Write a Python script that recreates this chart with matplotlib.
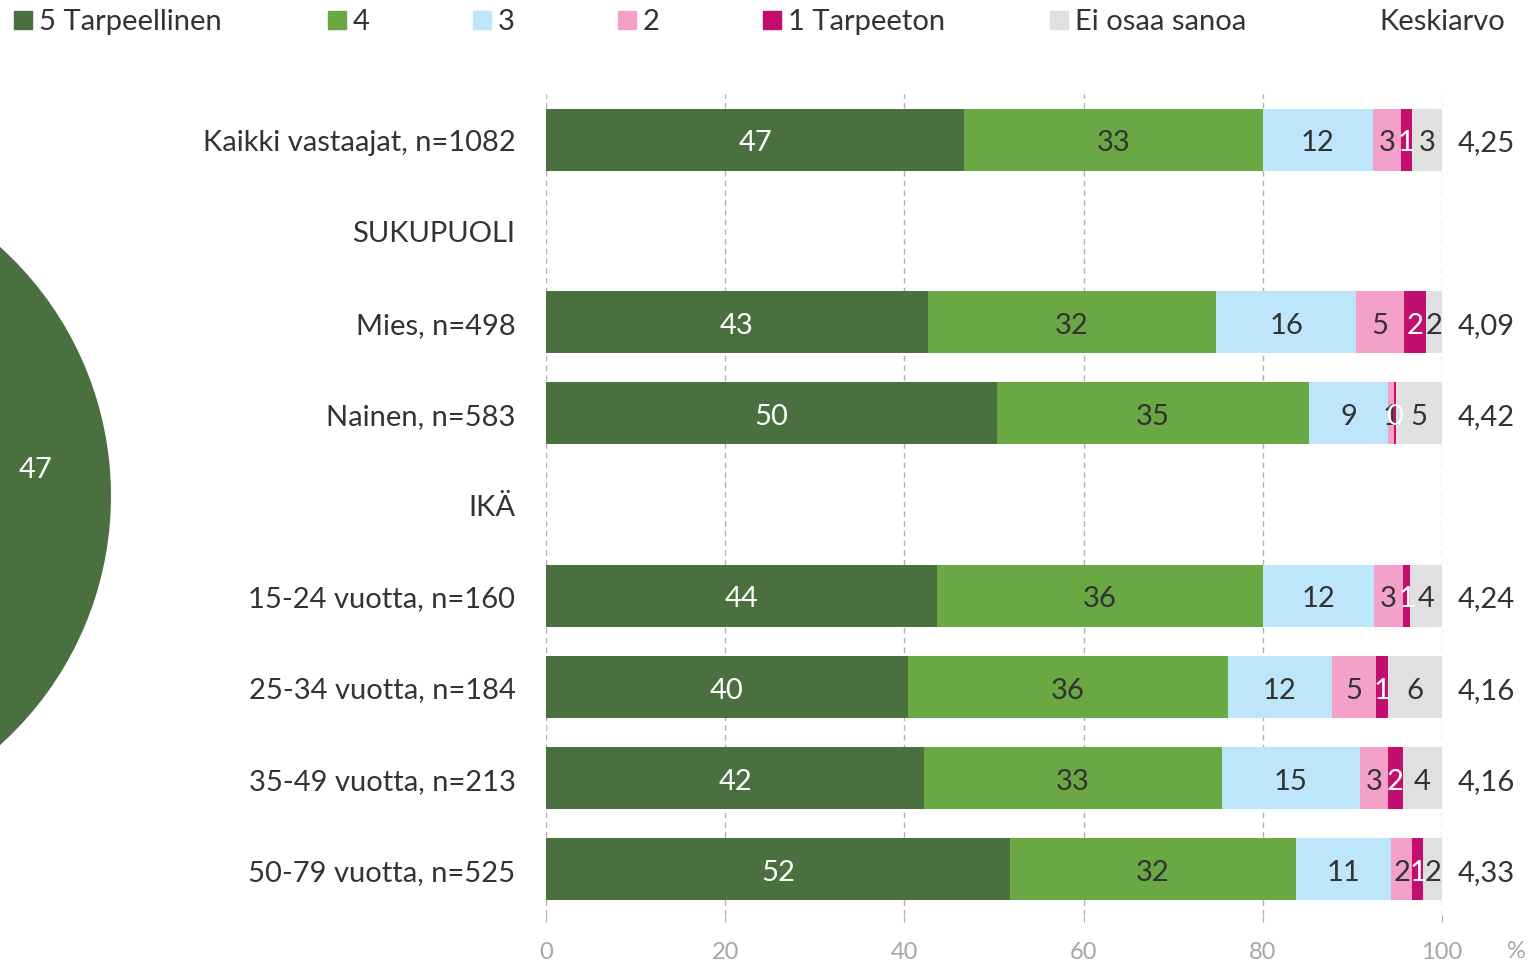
import numpy as np
import matplotlib
matplotlib.use("Agg")
import matplotlib.pyplot as plt
from matplotlib.patches import Rectangle

plt.rcParams['font.family'] = ['Lato', 'DejaVu Sans']

# data (percent), header rows are nan
categories = ["Kaikki vastaajat, n=1082", "SUKUPUOLI", "Mies, n=498", "Nainen, n=583", "IKÄ",
              "15-24 vuotta, n=160", "25-34 vuotta, n=184", "35-49 vuotta, n=213", "50-79 vuotta, n=525"]
series_names = ["5 Tarpeellinen", "4", "3", "2", "1 Tarpeeton", "Ei osaa sanoa"]
nan = np.nan
s5 = [46.7, nan, 42.6, 50.3, nan, 43.6, 40.4, 42.2, 51.8]
s4 = [33.3, nan, 32.2, 34.9, nan, 36.4, 35.7, 33.2, 31.9]
s3 = [12.3, nan, 15.6, 8.8, nan, 12.4, 11.6, 15.4, 10.6]
s2 = [3.1, nan, 5.4, 0.6, nan, 3.3, 4.9, 3.2, 2.4]
s1 = [1.2, nan, 2.4, 0.3, nan, 0.7, 1.4, 1.6, 1.2]
eos = [3.4, nan, 1.8, 5.1, nan, 3.6, 6.0, 4.4, 2.1]
means = ["4,25", "", "4,09", "4,42", "", "4,24", "4,16", "4,16", "4,33"]

colors = ["#4a7040", "#6aa843", "#bde6fa", "#f4a1c9", "#c20f6f", "#e0e0e0"]
txtcol = ["white", "#333333", "#333333", "#333333", "white", "#333333"]
series = [s5, s4, s3, s2, s1, eos]
fs = 21

W, H = 1531, 962
fig = plt.figure(figsize=(W/100, H/100), dpi=100)

# bar axes
ax = fig.add_axes([546/W, 1-916/H, 896/W, (916-95)/H])
y = np.arange(len(categories))
left = np.zeros(len(categories))
for k, s in enumerate(series):
    v = np.array(s, dtype=float)
    ax.barh(y, v, left=left, height=0.68, color=colors[k], zorder=2)
    for i in range(len(y)):
        if not np.isnan(v[i]):
            ax.text(left[i] + v[i]/2, y[i] + 0.03, f"{v[i]:.0f}", ha="center", va="center",
                    color=txtcol[k], fontsize=fs, zorder=3)
    left += np.nan_to_num(v)

for i in range(len(y)):
    ax.text(101.8, y[i] + 0.03, means[i], ha="left", va="center", fontsize=fs, color="#333333")

ax.set_xlim(0, 100)
ax.set_ylim(len(categories)-0.5, -0.5)
ax.set_yticks(y, categories)
ax.tick_params(axis="y", length=0, pad=22, labelsize=fs, labelcolor="#333333")
ax.set_xticks(np.arange(0, 101, 20))
ax.tick_params(axis="x", length=5, color="#b0b0b0", pad=14, labelsize=17, labelcolor="#a6a6a6")
ax.grid(axis="x", color="#b0b0b0", linestyle=(0, (4, 3)), linewidth=1, zorder=0)
for sp in ax.spines.values():
    sp.set_visible(False)
fig.text(1516/W, 1-952/H, "%", ha="center", va="center", fontsize=17, color="#a6a6a6")

# clipped pie on the left (only the first wedge is inside the picture)
pie_vals = [s[0] for s in series]
cx, cy, r = -224, 497, 335
pax = fig.add_axes([(cx-r)/W, 1-(cy+r)/H, 2*r/W, 2*r/H])
wedges, texts, autotexts = pax.pie(pie_vals, colors=colors, startangle=90, counterclock=False,
                                   autopct=lambda p: f"{p:.0f}", pctdistance=0.78,
                                   textprops=dict(color="white", fontsize=fs))
for t in autotexts[1:]:
    t.set_visible(False)
pax.set_xlim(-1, 1)
pax.set_ylim(-1, 1)
pax.set_axis_off()

# legend
leg_x = [14, 328, 473, 618, 763, 1050]
for k, name in enumerate(series_names):
    fig.patches.append(Rectangle((leg_x[k]/W, 1-30/H), 18/W, 18/H, transform=fig.transFigure,
                                 color=colors[k], figure=fig))
    fig.text((leg_x[k]+25)/W, 1-22/H, name, ha="left", va="center", fontsize=fs, color="#333333")
fig.text(1379/W, 1-22/H, "Keskiarvo", ha="left", va="center", fontsize=fs, color="#333333")

fig.savefig("out.png", dpi=100)
